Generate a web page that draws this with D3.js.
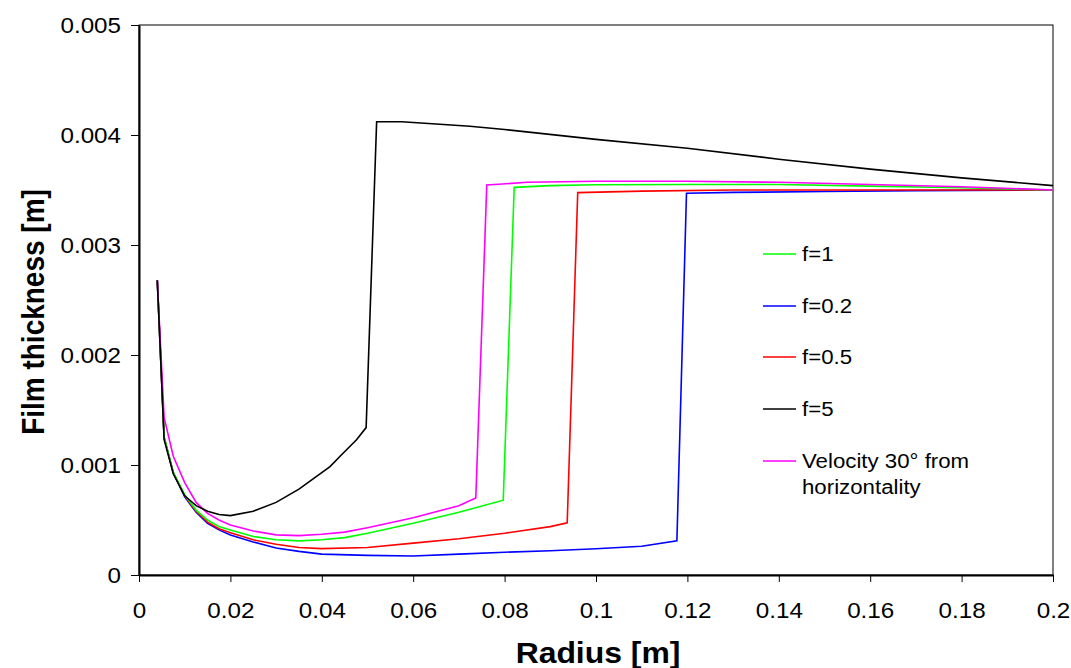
<!DOCTYPE html>
<html>
<head>
<meta charset="utf-8">
<script src="https://cdn.jsdelivr.net/npm/d3@7"></script>
<style>
  body { margin: 0; background: #fff; }
  svg { display: block; font-family: "Liberation Sans", Arial, sans-serif; }
</style>
</head>
<body>
<svg id="chart" width="1071" height="668"></svg>
<script>
// Film thickness profiles along the radius for several friction factors
const xTicks = [0, 0.02, 0.04, 0.06, 0.08, 0.1, 0.12, 0.14, 0.16, 0.18, 0.2];
const yTicks = [0, 0.001, 0.002, 0.003, 0.004, 0.005];

const seriesNames = ["f=1", "f=0.2", "f=0.5", "f=5", "Velocity 30° from horizontality"];
const seriesColors = ["#00ff00", "#0000ff", "#ff0000", "#000000", "#ff00ff"];

const radiusF1 = [0.004, 0.0055, 0.0075, 0.01, 0.0125, 0.015, 0.0175, 0.02, 0.025, 0.03, 0.035, 0.04, 0.045, 0.05, 0.06, 0.07, 0.0797, 0.0821, 0.09, 0.1, 0.12, 0.14, 0.16, 0.18, 0.2];
const thickF1  = [0.00268, 0.00125, 0.00093, 0.00073, 0.00059, 0.0005, 0.00044, 0.00041, 0.00035, 0.00032, 0.00031, 0.00032, 0.00034, 0.00038, 0.00047, 0.00057, 0.00068, 0.003524, 0.00354, 0.003548, 0.00355, 0.00355, 0.003535, 0.00352, 0.0035];

const radiusF02 = [0.004, 0.0055, 0.0075, 0.01, 0.0125, 0.015, 0.0175, 0.02, 0.025, 0.03, 0.035, 0.04, 0.05, 0.06, 0.07, 0.08, 0.09, 0.1, 0.11, 0.1177, 0.1198, 0.13, 0.15, 0.17, 0.2];
const thickF02  = [0.00268, 0.00125, 0.00093, 0.00071, 0.00057, 0.00047, 0.00041, 0.000364, 0.0003, 0.000245, 0.000215, 0.00019, 0.000178, 0.000173, 0.00019, 0.000207, 0.00022, 0.000238, 0.000262, 0.00031, 0.00347, 0.003478, 0.003487, 0.003494, 0.0035];

const radiusF05 = [0.004, 0.0055, 0.0075, 0.01, 0.0125, 0.015, 0.0175, 0.02, 0.025, 0.03, 0.035, 0.04, 0.05, 0.06, 0.07, 0.08, 0.09, 0.0937, 0.096, 0.11, 0.13, 0.16, 0.2];
const thickF05  = [0.00268, 0.00125, 0.00093, 0.00072, 0.00058, 0.00048, 0.00042, 0.000385, 0.00032, 0.00028, 0.00025, 0.00024, 0.00025, 0.00029, 0.00033, 0.00038, 0.00044, 0.000475, 0.003476, 0.00349, 0.0035, 0.0035, 0.0035];

const radiusF5 = [0.004, 0.0055, 0.0075, 0.01, 0.0125, 0.015, 0.0175, 0.02, 0.025, 0.03, 0.035, 0.0418, 0.044, 0.0476, 0.0497, 0.052, 0.0575, 0.065, 0.0724, 0.08, 0.1, 0.12, 0.14, 0.16, 0.18, 0.2];
const thickF5  = [0.00268, 0.00123, 0.00092, 0.00072, 0.00063, 0.00058, 0.00055, 0.00054, 0.00058, 0.00066, 0.00078, 0.000985, 0.00108, 0.00123, 0.00134, 0.00412, 0.00412, 0.0041, 0.00408, 0.00405, 0.00396, 0.00388, 0.00378, 0.00369, 0.00361, 0.00354];

const radiusV30 = [0.004, 0.0055, 0.0075, 0.01, 0.0125, 0.015, 0.0175, 0.02, 0.025, 0.03, 0.035, 0.04, 0.045, 0.05, 0.06, 0.07, 0.0737, 0.0761, 0.085, 0.1, 0.12, 0.14, 0.16, 0.18, 0.2];
const thickV30  = [0.00268, 0.00143, 0.00108, 0.00084, 0.00066, 0.00056, 0.0005, 0.000455, 0.0004, 0.000365, 0.000358, 0.00037, 0.00039, 0.00043, 0.00052, 0.00063, 0.0007, 0.003545, 0.00357, 0.00358, 0.00358, 0.00357, 0.00355, 0.00353, 0.0035];

const seriesX = [radiusF1, radiusF02, radiusF05, radiusF5, radiusV30];
const seriesY = [thickF1, thickF02, thickF05, thickF5, thickV30];

const svg = d3.select("#chart");
const margin = { left: 139, top: 25, right: 1053, bottom: 575 };
const stretch = 1.1; // text is set slightly wide

const x = d3.scaleLinear().domain([0, 0.2]).range([margin.left, margin.right]);
const y = d3.scaleLinear().domain([0, 0.005]).range([margin.bottom, margin.top]);

// plot frame
svg.append("rect")
  .attr("x", margin.left).attr("y", margin.top)
  .attr("width", margin.right - margin.left).attr("height", margin.bottom - margin.top)
  .attr("fill", "none").attr("stroke", "#000").attr("stroke-width", 1);

// curves (drawn so that f=5 and the 30° case sit on top)
const drawOrder = [1, 2, 0, 4, 3];
const line = d3.line().x(d => x(d[0])).y(d => y(d[1]));
drawOrder.forEach(i => {
  const pts = seriesX[i].map((r, k) => [r, seriesY[i][k]]);
  svg.append("path")
    .datum(pts)
    .attr("d", line)
    .attr("fill", "none")
    .attr("stroke", seriesColors[i])
    .attr("stroke-width", 1.6)
    .attr("stroke-linejoin", "miter");
});

// axes
const xAxis = d3.axisBottom(x).tickValues(xTicks).tickSize(7).tickSizeOuter(0)
  .tickFormat(d => d3.format("")(+d.toFixed(2)));
const yAxis = d3.axisLeft(y).tickValues(yTicks).tickSize(8).tickSizeOuter(0)
  .tickFormat(d => d3.format("")(+d.toFixed(3)));

const gx = svg.append("g").attr("transform", `translate(0,${margin.bottom})`).call(xAxis);
const gy = svg.append("g").attr("transform", `translate(${margin.left},0)`).call(yAxis);

[gx, gy].forEach(g => {
  g.select(".domain").attr("stroke", "#000").attr("stroke-width", 2);
  g.selectAll(".tick line").attr("stroke", "#000").attr("stroke-width", 1);
  g.selectAll(".tick text").attr("fill", "#000")
    .style("font-size", "22px").style("font-family", "'Liberation Sans', Arial, sans-serif");
});
gx.selectAll(".tick text")
  .attr("y", null).attr("dy", null)
  .attr("transform", `translate(0,43) scale(${stretch},1)`);
gy.selectAll(".tick text")
  .attr("x", null).attr("dy", "0.35em")
  .attr("transform", `translate(-18,0) scale(${stretch},1)`);

// axis titles
svg.append("text")
  .attr("transform", `translate(598,663) scale(${stretch},1)`)
  .attr("text-anchor", "middle")
  .style("font-size", "29px").style("font-weight", "bold")
  .text("Radius [m]");

svg.append("text")
  .attr("transform", `translate(44,312) scale(1.15,1) rotate(-90)`)
  .attr("text-anchor", "middle")
  .style("font-size", "28px").style("font-weight", "bold")
  .text("Film thickness [m]");

// legend
const legendY = [254, 306, 357, 409, 461];
const legend = svg.append("g");
seriesNames.forEach((name, i) => {
  legend.append("line")
    .attr("x1", 763).attr("x2", 796)
    .attr("y1", legendY[i]).attr("y2", legendY[i])
    .attr("stroke", seriesColors[i]).attr("stroke-width", 1.6);
  const t = legend.append("text")
    .attr("transform", `translate(802,${legendY[i]}) scale(1.06,1)`)
    .attr("dy", "0.35em")
    .style("font-size", "21px");
  if (i === 4) {
    t.append("tspan").attr("x", 0).text("Velocity 30° from");
    t.append("tspan").attr("x", 0).attr("dy", "1.2em").text("horizontality");
  } else {
    t.text(name);
  }
});
</script>
</body>
</html>
